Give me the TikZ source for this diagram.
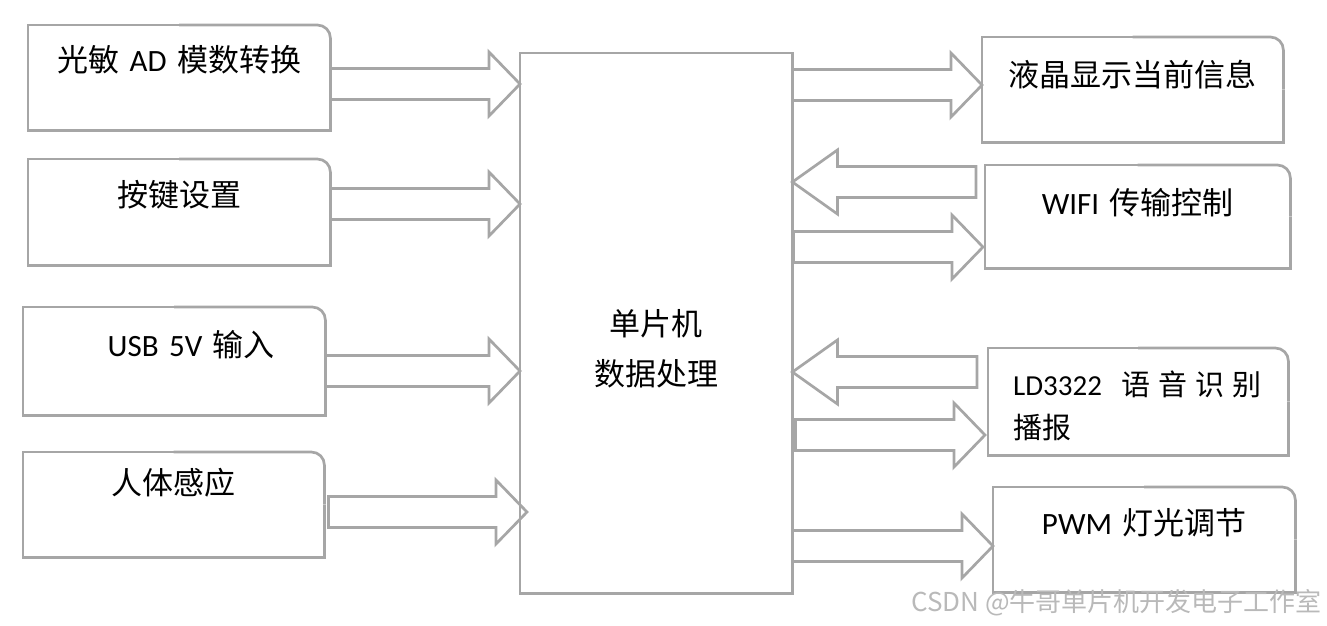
\documentclass[tikz,border=0pt]{standalone}
\usepackage{fontspec}
\usetikzlibrary{calc}
\setmainfont{Noto Sans CJK SC}
\newfontfamily\latin{Carlito}
\definecolor{boxgray}{HTML}{A6A6A6}
% outline with one round corner (top right)
\newcommand{\modbox}[1]{%
  \draw[boxline] (#1.north) -- (#1.north west) -- (#1.south west) -- (#1.south east) -- (#1.east);
  \draw[boxline,rounded corners=13pt] (#1.east) -- (#1.north east) -- (#1.north);}
% hollow block arrow: [head length]{start}{tip}
\newcommand{\blockarrow}[3][31]{%
  \path #2 coordinate (a1) #3 coordinate (a2);
  \draw[blockarr] let \p1=(a1), \p2=(a2), \n1={sign(\x2-\x1)} in
    (\x1,\y1+15.5pt) -- ({\x2-(\n1)*#1pt},\y1+15.5pt) -- ({\x2-(\n1)*#1pt},\y1+32pt) -- (\x2,\y1)
    -- ({\x2-(\n1)*#1pt},\y1-32pt) -- ({\x2-(\n1)*#1pt},\y1-15.5pt) -- (\x1,\y1-15.5pt) -- cycle;}

\begin{document}
\begin{tikzpicture}[x=1pt,y=-1pt,line join=miter,
  every node/.style={font=\fontsize{31}{50}\selectfont},
  box/.style={anchor=north west,inner sep=0pt,align=center},
  boxline/.style={draw=boxgray,line width=2.7pt},
  blockarr/.style={boxline,fill=white}]
\useasboundingbox (0,0) rectangle (1327,625);
% inputs
\node[box,text width=302pt,text height=46.5pt,text depth=58.5pt] (gm) at (28,25) {光敏 {\latin AD} 模数转换\hspace*{12pt}};
\node[box,text width=302pt,text height=47.5pt,text depth=58.5pt] (aj) at (28,159) {按键设置};
\node[box,text width=302pt,text height=49.5pt,text depth=58.5pt] (usb) at (23,307) {\hspace*{34pt}{\latin USB 5V }输入};
\node[box,text width=301pt,text height=42.5pt,text depth=62.5pt] (rt) at (23,452) {人体感应};
% controller
\node[box,text width=272pt,text height=282pt,text depth=258pt] (mcu) at (520,53) {单片机\\数据处理};
% outputs
\node[box,text width=301pt,text height=49.5pt,text depth=55.5pt] (lcd) at (982,37) {液晶显示当前信息};
\node[box,text width=305pt,text height=49.5pt,text depth=53.5pt] (wifi) at (985,165) {{\latin WIFI }传输控制};
\node[box,align=left,text width=250pt,inner xsep=25pt,text height=47.7pt,text depth=59.3pt,
  font=\fontsize{29}{43}\selectfont] (ld) at (988,348)
  {\mbox{{\latin LD3322}\hspace{19pt}语\hspace{8pt}音\hspace{8pt}识\hspace{8pt}别}\\播报};
\node[box,text width=302pt,text height=47.5pt,text depth=57.5pt] (pwm) at (993,487) {{\latin PWM }灯光调节};

\blockarrow{(gm.east |- 0,84)}{(mcu.west |- 0,84)}
\blockarrow{(aj.east |- 0,204)}{(mcu.west |- 0,204)}
\blockarrow{(usb.east |- 0,371)}{(mcu.west |- 0,371)}
\blockarrow{([xshift=4pt]rt.east |- 0,512)}{([xshift=7pt]mcu.west |- 0,512)}
\blockarrow{(mcu.east |- 0,85)}{(lcd.west |- 0,85)}
\blockarrow[45]{([xshift=-9pt]wifi.west |- 0,182)}{(mcu.east |- 0,182)}
\blockarrow{([xshift=1pt]mcu.east |- 0,247)}{([xshift=-2pt]wifi.west |- 0,247)}
\blockarrow[45]{([xshift=-11pt]ld.west |- 0,372)}{(mcu.east |- 0,372)}
\blockarrow{([xshift=3pt]mcu.east |- 0,435)}{([xshift=-3pt]ld.west |- 0,435)}
\blockarrow{(mcu.east |- 0,546)}{(pwm.west |- 0,546)}

\modbox{gm} \modbox{aj} \modbox{usb} \modbox{rt}
\modbox{lcd} \modbox{wifi} \modbox{ld} \modbox{pwm}
\draw[boxline] (mcu.north west) rectangle (mcu.south east);

\node[anchor=east,inner sep=0pt,text=gray!55,font=\fontsize{26}{26}\selectfont] (wm) at (1322,603) {CSDN @牛哥单片机开发电子工作室};
\end{tikzpicture}
\end{document}
